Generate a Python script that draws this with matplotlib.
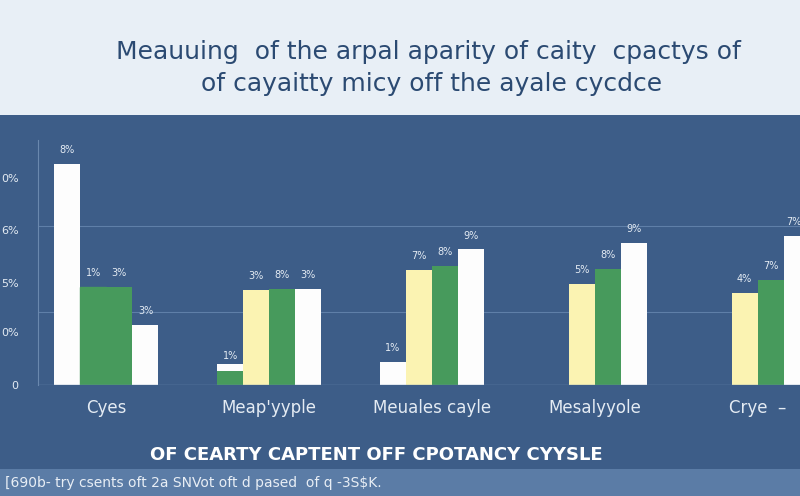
import numpy as np
import matplotlib.pyplot as plt
from matplotlib.patches import Rectangle

categories = ["Cyes", "Meap'yyple", "Meuales cayle", "Mesalyyole", "Crye  \u2013"]
s1 = [10.0, 0.68, 1.05, np.nan, np.nan]
s2 = [4.45, 4.32, 5.23, 4.59, 4.18]
s3 = [4.45, 4.36, 5.41, 5.27, 4.77]
s4 = [2.73, 4.36, 6.14, 6.45, 6.77]
s1_labels = ["8%", "1%", "1%", "", ""]
s2_labels = ["1%", "3%", "7%", "5%", "4%"]
s3_labels = ["3%", "8%", "8%", "8%", "7%"]
s4_labels = ["3%", "3%", "9%", "9%", "7%"]
ytick_vals = [0, 2.4, 4.6, 7.0, 9.4]
ytick_labels = ["0", "0%", "5%", "6%", "0%"]

BG = "#3d5d88"
WHITE = "#fdfdfd"
GREEN = "#479a5c"
YELLOW = "#fbf3b2"
TXT = "#e4ebf3"

fig = plt.figure(figsize=(8, 4.96), dpi=100)
fig.patch.set_facecolor(BG)
# top banner
fig.add_artist(Rectangle((0, 1 - 115 / 496), 1, 115 / 496, transform=fig.transFigure,
                         facecolor="#e8eff6", edgecolor="none"))
fig.text(0.535, 1 - 52 / 496, "Meauuing  of the arpal aparity of caity  cpactys of",
         ha="center", va="center", fontsize=18, color="#2b4a72")
fig.text(0.54, 1 - 84 / 496, "of cayaitty micy off the ayale cycdce",
         ha="center", va="center", fontsize=18, color="#2b4a72")
# footer strip
fig.add_artist(Rectangle((0, 0), 1, 27 / 496, transform=fig.transFigure,
                         facecolor="#5b7ca6", edgecolor="none"))
fig.text(0.006, 13 / 496, "[690b- try csents oft 2a SNVot oft d pased  of q -3S$K.",
         ha="left", va="center", fontsize=10, color="#e8eef5")
fig.text(0.47, 1 - 455 / 496, "OF CEARTY CAPTENT OFF CPOTANCY CYYSLE",
         ha="center", va="center", fontsize=13, color="white", fontweight="bold")

ax = fig.add_axes([38 / 800, 1 - 385 / 496, 762 / 800, 245 / 496])
ax.set_facecolor("none")
x = np.arange(len(categories))
w = 0.16
s1_colors = [WHITE, GREEN, WHITE, WHITE, WHITE]
series = [(s1, s1_colors, s1_labels), (s2, [WHITE] + [YELLOW] * 4, s2_labels),
          (s3, [GREEN] * 5, s3_labels), (s4, [WHITE] * 5, s4_labels)]
for k, (vals, cols, labs) in enumerate(series):
    xs = x + (k - 1.5) * w
    bars = ax.bar(xs, vals, width=w, color=cols, edgecolor="none")
    for i, (xi, v, lab) in enumerate(zip(xs, vals, labs)):
        if not np.isnan(v) and lab:
            # keep the last label inside the figure
            last = k == 3 and i == len(xs) - 1
            ax.text(xi + (0.03 if last else 0), v + 0.4, lab,
                    ha="right" if last else "center", va="bottom", fontsize=7, color=TXT)
    if k == 1:
        bars[0].set_color(GREEN)
# white cap on tiny green bar
ax.bar(x[1] - 1.5 * w, 0.3, bottom=s1[1] - 0.05, width=w, color=WHITE)

ax.set_xlim(-0.42, 4.26)
ax.set_ylim(0, 11.1)
for gy in [3.3, 7.2]:
    ax.axhline(gy, color="#5f7fa8", lw=0.8, zorder=0)
ax.axhline(0, color="#6a88ae", lw=1)
for s in ["top", "right", "bottom"]:
    ax.spines[s].set_visible(False)
ax.spines["left"].set_color("#6a88ae")
ax.set_yticks(ytick_vals)
ax.set_yticklabels(ytick_labels, color=TXT, fontsize=8)
ax.tick_params(axis="y", length=0, pad=14)
ax.set_xticks(x)
ax.set_xticklabels(categories, color=TXT, fontsize=12)
ax.tick_params(axis="x", length=0, pad=10)

fig.savefig("out.png", dpi=100, facecolor=fig.get_facecolor())
